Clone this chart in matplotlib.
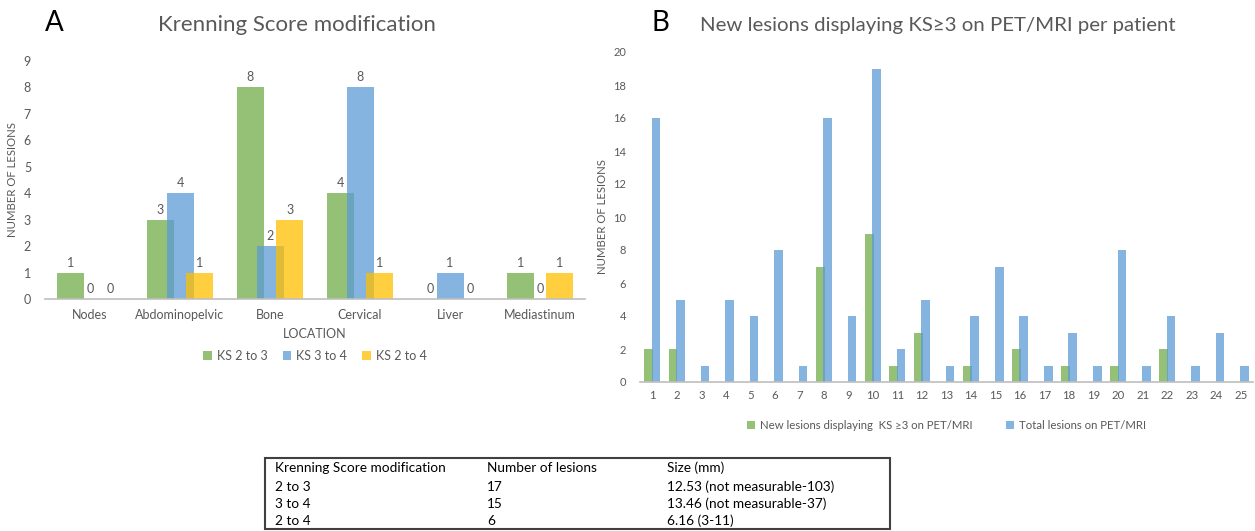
import numpy as np
import matplotlib
matplotlib.use("Agg")
import matplotlib.pyplot as plt
from matplotlib.patches import Rectangle

plt.rcParams['font.family'] = ['Lato', 'DejaVu Sans']

# Panel A data
locations = ["Nodes", "Abdominopelvic", "Bone", "Cervical", "Liver", "Mediastinum"]
ks_2_to_3 = [1, 3, 8, 4, 0, 1]
ks_3_to_4 = [0, 4, 2, 8, 1, 0]
ks_2_to_4 = [0, 1, 3, 1, 0, 1]
series_a = ["KS 2 to 3", "KS 3 to 4", "KS 2 to 4"]

# Panel B data
patients = list(range(1, 26))
new_lesions = [2, 2, 0, 0, 0, 0, 0, 7, 0, 9, 1, 3, 0, 1, 0, 2, 0, 1, 0, 1, 0, 2, 0, 0, 0]
total_lesions = [16, 5, 1, 5, 4, 8, 1, 16, 4, 19, 2, 5, 1, 4, 7, 4, 1, 3, 1, 8, 1, 4, 1, 3, 1]
series_b = ["New lesions displaying  KS \u22653 on PET/MRI", "Total lesions on PET/MRI"]

# Table
table_header = ["Krenning Score modification", "Number of lesions", "Size (mm)"]
table_rows = [
    ["2 to 3", "17", "12.53 (not measurable-103)"],
    ["3 to 4", "15", "13.46 (not measurable-37)"],
    ["2 to 4", "6", "6.16 (3-11)"],
]

GREEN = "#70AD47"
BLUE = "#5B9BD5"
YELLOW = "#FFC000"
GREY = "#595959"
AXIS = "#BFBFBF"

W, H = 1255, 531
fig = plt.figure(figsize=(W / 100, H / 100), dpi=100)


def style_axes(ax):
    for s in ["top", "right", "left"]:
        ax.spines[s].set_visible(False)
    ax.spines["bottom"].set_color(AXIS)
    ax.spines["bottom"].set_linewidth(1.2)
    ax.tick_params(axis="both", length=0, colors=GREY)


# ---- Panel A ----
axA = fig.add_axes([45 / W, 1 - 299 / H, 540 / W, (299 - 61) / H])
x = np.arange(len(locations))
w, off = 0.30, 0.22
for i, (vals, col, lab) in enumerate(zip([ks_2_to_3, ks_3_to_4, ks_2_to_4],
                                         [GREEN, BLUE, YELLOW], series_a)):
    bars = axA.bar(x + (i - 1) * off, vals, w, color=col, alpha=0.75, label=lab)
    for b, v in zip(bars, vals):
        axA.text(b.get_x() + b.get_width() / 2, v + 0.15, str(v),
                 ha="center", va="bottom", fontsize=9, color=GREY)
axA.set_xlim(-0.5, len(locations) - 0.5)
axA.set_ylim(0, 9)
axA.set_yticks(range(0, 10))
axA.set_xticks(x)
axA.set_xticklabels(locations)
axA.tick_params(axis="x", labelsize=9, pad=7)
axA.tick_params(axis="y", labelsize=9, pad=10)
style_axes(axA)
axA.set_xlabel("LOCATION", fontsize=9, color=GREY, labelpad=5)
axA.set_ylabel("NUMBER OF LESIONS", fontsize=8.2, color=GREY, labelpad=4)
axA.legend(loc="upper center", bbox_to_anchor=(0.5, -0.165), ncol=3, frameon=False,
           fontsize=9, handlelength=0.7, handleheight=0.7, handletextpad=0.4,
           columnspacing=1.2, labelcolor=GREY)
fig.text(45 / W, 1 - 23 / H, "A", fontsize=20, color="black", va="center", ha="left")
fig.text(297 / W, 1 - 25 / H, "Krenning Score modification", fontsize=16,
         color=GREY, va="center", ha="center")

# ---- Panel B ----
axB = fig.add_axes([640 / W, 1 - 382 / H, 613 / W, (382 - 52) / H])
xb = np.arange(len(patients))
wb, offb = 0.35, 0.15
axB.bar(xb - offb, new_lesions, wb, color=GREEN, alpha=0.75, label=series_b[0])
axB.bar(xb + offb, total_lesions, wb, color=BLUE, alpha=0.75, label=series_b[1])
axB.set_xlim(-0.5, len(patients) - 0.5)
axB.set_ylim(0, 20)
axB.set_yticks(range(0, 21, 2))
axB.set_xticks(xb)
axB.set_xticklabels([str(p) for p in patients])
axB.tick_params(axis="x", labelsize=8.2, pad=6)
axB.tick_params(axis="y", labelsize=8, pad=10)
style_axes(axB)
axB.set_ylabel("NUMBER OF LESIONS", fontsize=8.2, color=GREY, labelpad=4)
axB.legend(loc="upper center", bbox_to_anchor=(0.5, -0.085), ncol=2, frameon=False,
           fontsize=8.2, handlelength=0.7, handleheight=0.7, handletextpad=0.4,
           columnspacing=3.0, labelcolor=GREY)
fig.text(651 / W, 1 - 23 / H, "B", fontsize=20, color="black", va="center", ha="left")
fig.text(938 / W, 1 - 25 / H, "New lesions displaying KS\u22653 on PET/MRI per patient",
         fontsize=14.7, color=GREY, va="center", ha="center")

# ---- Table ----
box = Rectangle((265 / W, 1 - 529 / H), 625 / W, 71 / H, transform=fig.transFigure,
                fill=False, edgecolor="#404040", linewidth=1.5)
fig.patches.append(box)
col_x = [275, 487, 667]
row_y = [468, 487, 504, 521]
for r, row in enumerate([table_header] + table_rows):
    for c, txt in enumerate(row):
        fig.text(col_x[c] / W, 1 - row_y[r] / H, txt, fontsize=9.8, color="black",
                 ha="left", va="center")

fig.savefig("out.png", dpi=100)
